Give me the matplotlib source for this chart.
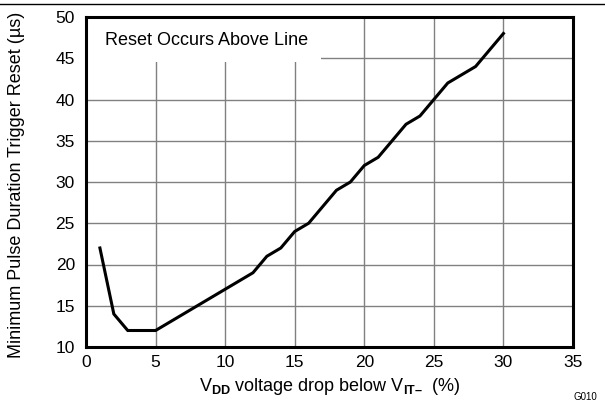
import numpy as np
import matplotlib
matplotlib.use("Agg")
import matplotlib.pyplot as plt
from matplotlib.patches import Rectangle
from matplotlib.lines import Line2D

plt.rcParams['font.family'] = ['Liberation Sans', 'DejaVu Sans']
plt.rcParams['mathtext.fontset'] = 'custom'
plt.rcParams['mathtext.rm'] = 'Liberation Sans'
plt.rcParams['mathtext.bf'] = 'Liberation Sans:bold'

# voltage drop (%) vs minimum pulse duration (us)
drop = [1, 2, 3, 5, 12, 13, 14, 15, 16, 18, 19, 20, 21, 23, 24, 26, 28, 30]
pulse = [22, 14, 12, 12, 19, 21, 22, 24, 25, 29, 30, 32, 33, 37, 38, 42, 44, 48]

xticks = [0, 5, 10, 15, 20, 25, 30, 35]
yticks = [10, 15, 20, 25, 30, 35, 40, 45, 50]

fig = plt.figure(figsize=(6.05, 4.05), dpi=100)
ax = fig.add_axes([86 / 605, 58 / 405, 487 / 605, 330 / 405])

ax.plot(drop, pulse, color='black', lw=2.2, zorder=4, solid_joinstyle='miter')

ax.set_xlim(0, 35)
ax.set_ylim(10, 50)
ax.set_xticks(xticks)
ax.set_yticks(yticks)
ax.tick_params(length=0, labelsize=12.5)
ax.tick_params(axis='y', pad=8)
ax.tick_params(axis='x', pad=6)
ax.grid(True, color='#808080', lw=1.0, zorder=1)
ax.set_axisbelow(True)
for s in ax.spines.values():
    s.set_linewidth(2.2)
    s.set_zorder(5)

# white box behind the note
ax.add_patch(Rectangle((0, 44.6), 16.9, 5.4, facecolor='white', edgecolor='none', zorder=2))
ax.text(1.35, 47.1, 'Reset Occurs Above Line', fontsize=13, va='center', ha='left', zorder=3)

xlab = r'V$_{\mathbf{DD}}$ voltage drop below V$_{\mathbf{IT' + '\u2013' + r'}}$  (%)'
ax.set_xlabel(xlab, fontsize=13, labelpad=4)
fig.text(17 / 605, 1 - 358 / 405, 'Minimum Pulse Duration Trigger Reset (\u00b5s)',
         rotation=90, fontsize=13, ha='center', va='bottom')
fig.text(585 / 605, 1 - 397 / 405, 'G010', fontsize=7, ha='center', va='center')

fig.add_artist(Line2D([0, 1], [1 - 4 / 405, 1 - 4 / 405], color='black', lw=1.0, transform=fig.transFigure))

fig.savefig('out.png', dpi=100)
